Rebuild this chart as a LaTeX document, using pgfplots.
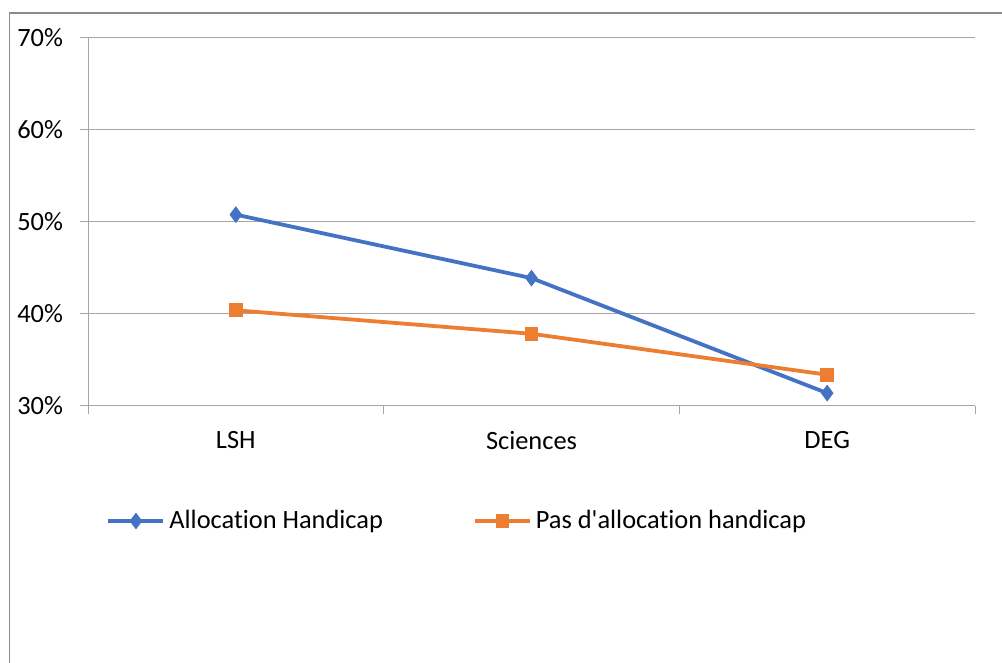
\documentclass[border=0pt]{standalone}
\usepackage{fontspec}
\setmainfont{Carlito}[Ligatures={NoCommon}]
\usepackage{pgfplots}
\pgfplotsset{compat=1.18}
\definecolor{cblue}{HTML}{4472C4}
\definecolor{corange}{HTML}{ED7D31}
\definecolor{gridc}{HTML}{A6A6A6}
\definecolor{framec}{HTML}{8C8C8C}
\newcommand{\chfont}{\fontsize{13.2}{16}\selectfont}
\begin{document}
\begin{tikzpicture}[x=1pt,y=1pt]
\useasboundingbox (0,0) rectangle (501,331.5);
\draw[framec, line width=0.75pt] (4.75,0) -- (4.75,325) -- (501,325);
\begin{axis}[
  at={(44pt,128.5pt)}, anchor=south west,
  scale only axis, width=443.5pt, height=184pt,
  xmin=-0.5, xmax=2.5, ymin=30, ymax=70,
  ytick={30,40,50,60,70},
  yticklabel={\pgfmathprintnumber{\tick}\%},
  /pgf/number format/assume math mode=true,
  ymajorgrids, grid style={gridc, line width=0.5pt},
  axis x line*=bottom, axis y line*=left,
  every outer x axis line/.append style={-, gridc, line width=0.5pt},
  every outer y axis line/.append style={-, gridc, line width=0.5pt},
  axis line style={-},
  xtick={-0.5,0.5,1.5,2.5}, xticklabels={},
  extra x ticks={0,1,2}, extra x tick labels={LSH,Sciences,DEG},
  extra x tick style={major tick length=0pt, grid=none},
  tick align=outside, major tick length=4pt,
  tick style={gridc, line width=0.5pt},
  ticklabel style={font=\chfont, text=black},
  yticklabel style={xshift=-5pt},
  extra x tick style={xticklabel style={yshift=-9pt}},
  legend columns=2,
  legend style={at={(0.0205,-0.3125)}, anchor=west, draw=none, fill=none,
    inner sep=0pt, font=\chfont,
    /tikz/every even column/.append style={column sep=43pt}},
  legend cell align=left,
  legend image code/.code={\draw[mark repeat=2,mark phase=2,#1] plot coordinates {(0pt,0pt) (13.75pt,0pt) (27.5pt,0pt)};},
]
\addplot[cblue, line width=1.9pt, mark=diamond*, mark size=3.8pt, mark options={line width=0.5pt}]
  coordinates {(0,50.8) (1,43.9) (2,31.4)};
\addlegendentry{Allocation Handicap}
\addplot[corange, line width=1.9pt, mark=square*, mark size=3.2pt, mark options={line width=0.5pt}]
  coordinates {(0,40.4) (1,37.85) (2,33.4)};
\addlegendentry{Pas d\textquotesingle allocation handicap}
\end{axis}
\end{tikzpicture}
\end{document}
